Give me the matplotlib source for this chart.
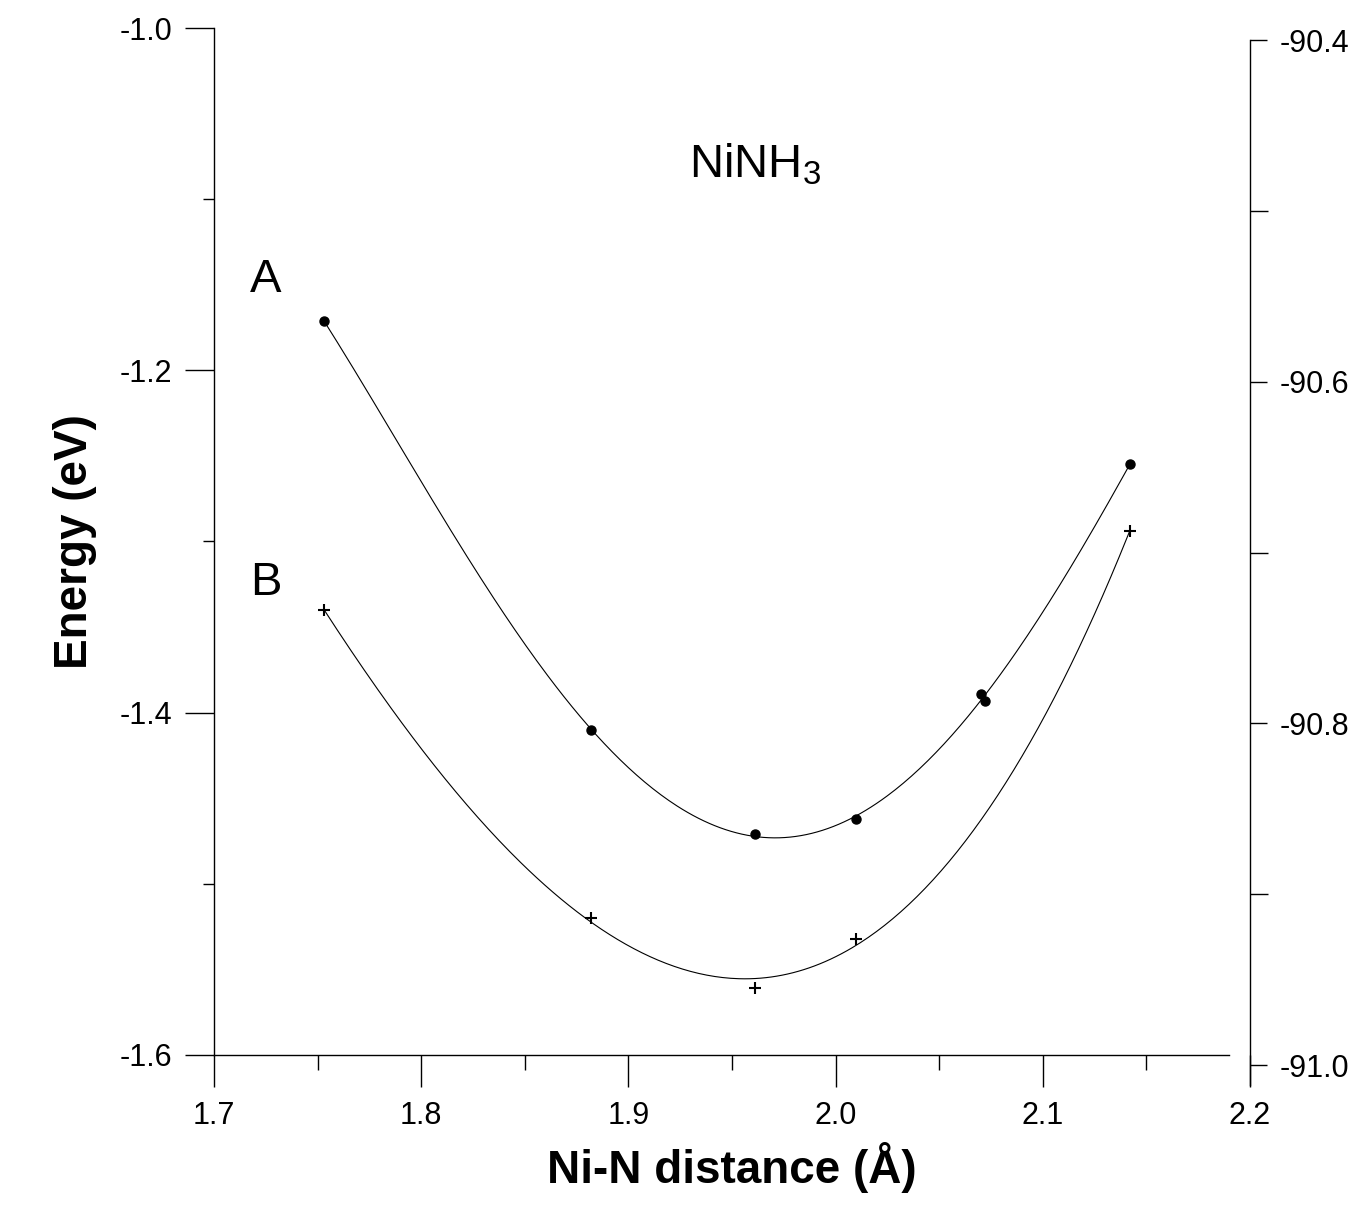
import numpy as np
import matplotlib.pyplot as plt
from matplotlib.ticker import MultipleLocator, FormatStrFormatter

plt.rcParams['font.family'] = ['Liberation Sans', 'DejaVu Sans']

# curve A (filled dots)
dist_a = [1.753, 1.882, 1.961, 2.010, 2.070, 2.072, 2.142]
energy_a = [-1.171, -1.410, -1.471, -1.462, -1.389, -1.393, -1.255]
# curve B (crosses)
dist_b = [1.753, 1.882, 1.961, 2.010, 2.142]
energy_b = [-1.340, -1.520, -1.561, -1.532, -1.294]


def fit_curve(x, y, deg=3):
    """smooth fit through the points, like the original plot"""
    c = np.polyfit(x, y, deg)
    xs = np.linspace(min(x), max(x), 300)
    return xs, np.polyval(c, xs)


fig = plt.figure(figsize=(13.66, 12.23), dpi=100)
ax = fig.add_axes([0.1567, 0.1374, 0.7584, 0.8397])

xa, ya = fit_curve(dist_a, energy_a, 4)
xb, yb = fit_curve(dist_b, energy_b, 3)
ax.plot(xa, ya, color="black", lw=0.8)
ax.plot(xb, yb, color="black", lw=0.8)
ax.plot(dist_a, energy_a, "o", color="black", ms=6.5)
ax.plot(dist_b, energy_b, "+", color="black", ms=9, mew=1.5)

ax.set_xlim(1.7, 2.2)
ax.set_ylim(-1.6, -1.0)
ax.xaxis.set_major_locator(MultipleLocator(0.1))
ax.xaxis.set_minor_locator(MultipleLocator(0.05))
ax.yaxis.set_major_locator(MultipleLocator(0.2))
ax.yaxis.set_minor_locator(MultipleLocator(0.1))
ax.xaxis.set_major_formatter(FormatStrFormatter("%.1f"))
ax.yaxis.set_major_formatter(FormatStrFormatter("%.1f"))

ax.spines["top"].set_visible(False)
ax.spines["right"].set_visible(False)
ax.spines["bottom"].set_bounds(1.7, 2.19)
for s in ["left", "bottom"]:
    ax.spines[s].set_linewidth(1.0)

ax.tick_params(axis="y", which="major", direction="out", length=21, width=1.0,
               labelsize=22, pad=9)
ax.tick_params(axis="y", which="minor", direction="out", length=8, width=1.0)
ax.tick_params(axis="x", which="major", direction="out", length=23, width=1.0,
               labelsize=22, pad=10)
ax.tick_params(axis="x", which="minor", direction="out", length=11, width=1.0)

ax.set_xlabel("Ni-N distance (Å)", fontsize=33, fontweight="bold", labelpad=8)
ax.set_ylabel("Energy (eV)", fontsize=33, fontweight="bold", labelpad=16)

ax.text(1.725, -1.147, "A", fontsize=34, ha="center", va="center")
ax.text(1.725, -1.324, "B", fontsize=34, ha="center", va="center")
ax.text(1.929, -1.080, r"$\mathregular{NiNH_3}$", fontsize=34, ha="left", va="center")

# second energy scale on the right (sits a little lower in the original)
ax2 = fig.add_axes([0.1567, 1 - 1085 / 1223, 0.7584, 1045 / 1223])
ax2.patch.set_visible(False)
for s in ["top", "left", "bottom"]:
    ax2.spines[s].set_visible(False)
ax2.spines["right"].set_linewidth(1.0)
ax2.set_xlim(1.7, 2.2)
ax2.set_ylim(-91.0117, -90.4)
ax2.xaxis.set_visible(False)
ax2.yaxis.tick_right()
ax2.yaxis.set_major_locator(MultipleLocator(0.2))
ax2.yaxis.set_minor_locator(MultipleLocator(0.1))
ax2.yaxis.set_major_formatter(FormatStrFormatter("%.1f"))
ax2.tick_params(axis="y", which="major", direction="out", length=12, width=1.0,
                labelsize=22, pad=9)
ax2.tick_params(axis="y", which="minor", direction="out", length=13, width=1.0)

fig.savefig("out.png", dpi=100)
